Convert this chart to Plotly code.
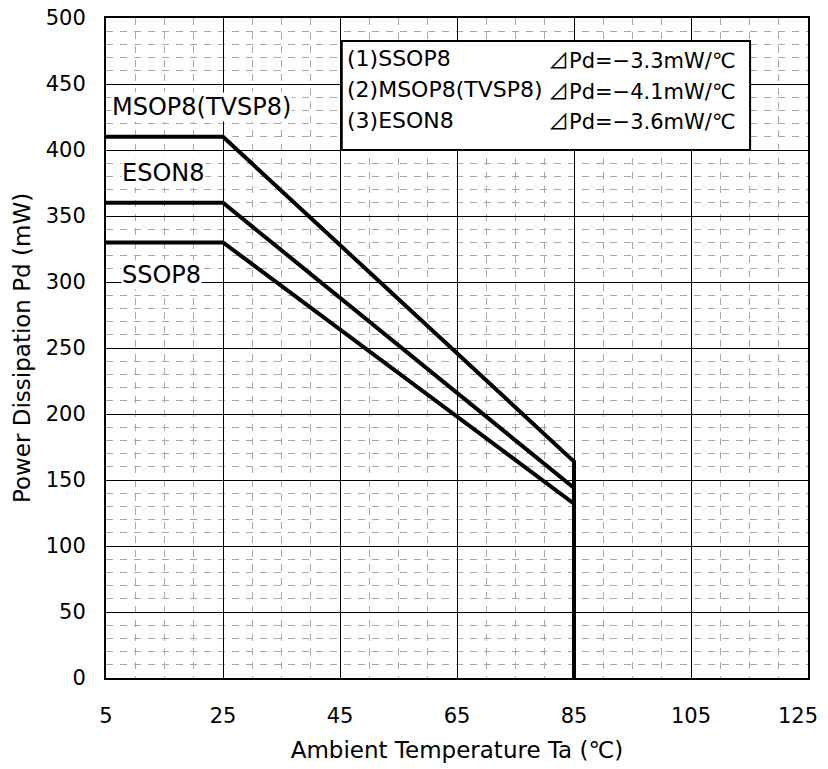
import plotly.graph_objects as go

temps = [5, 25, 85, 85]
ssop8 = [330, 330, 132, 0]
msop8 = [410, 410, 164, 0]
eson8 = [360, 360, 144, 0]

x_ticks = [5, 25, 45, 65, 85, 105, 125]
x_ticktext = ["5", "25", "45", "65", "85", "105", "125\u00a0\u00a0\u00a0"]
y_ticks = [0, 50, 100, 150, 200, 250, 300, 350, 400, 450, 500]

legend_names = ["(1)SSOP8", "(2)MSOP8(TVSP8)", "(3)ESON8"]
legend_slopes = ["Pd=−3.3mW/℃", "Pd=−4.1mW/℃", "Pd=−3.6mW/℃"]

fig = go.Figure()
for name, ys in [("SSOP8", ssop8), ("ESON8", eson8), ("MSOP8(TVSP8)", msop8)]:
    fig.add_trace(go.Scatter(x=temps, y=ys, mode="lines", name=name,
                             line=dict(color="black", width=4), showlegend=False))

F = "DejaVu Sans, Noto Sans CJK JP"
TRI = '<span style="font-family:Noto Sans CJK JP">⊿</span>'

# curve labels
for txt, xx, yy in [("MSOP8(TVSP8)", 5.9, 432.6), ("ESON8", 7.6, 382.6), ("SSOP8", 7.6, 305)]:
    fig.add_annotation(x=xx, y=yy, text=txt, showarrow=False, xanchor="left", yanchor="middle",
                       font=dict(family=F, size=24, color="black"), bgcolor="white", borderpad=0)

# legend box
fig.add_shape(type="rect", x0=45.3, x1=115.1, y0=400, y1=482.6, xref="x", yref="y",
              line=dict(color="black", width=2), fillcolor="white", layer="above")
rows_y = [469, 445.5, 422.7]
for n, s, yy in zip(legend_names, legend_slopes, rows_y):
    fig.add_annotation(x=45.8, y=yy, text=n, showarrow=False, xanchor="left", yanchor="middle",
                       font=dict(family=F, size=22, color="black"))
    fig.add_annotation(x=80.2, y=yy, text=TRI + s, showarrow=False, xanchor="left", yanchor="middle",
                       font=dict(family=F, size=21, color="black"))

fig.update_layout(
    width=828, height=769,
    margin=dict(l=98, r=28, t=10, b=99),
    paper_bgcolor="white", plot_bgcolor="white",
    font=dict(family=F, size=21, color="black"),
)
fig.update_xaxes(range=[5, 125], tickvals=x_ticks, ticktext=x_ticktext, ticks="", showgrid=True,
                 gridcolor="black", gridwidth=1,
                 minor=dict(dtick=5, tick0=5, showgrid=True, gridcolor="#a8a8a8", griddash="7px,7px", gridwidth=1),
                 showline=True, linecolor="black", linewidth=2, mirror=True, zeroline=False,
                 automargin=False, ticklabelstandoff=18, ticklabeloverflow="allow",
                 title=dict(text="Ambient Temperature Ta (℃)", font=dict(family=F, size=23), standoff=15),
                 tickfont=dict(family=F, size=21))
fig.update_yaxes(range=[0, 500], tickvals=y_ticks, ticks="", showgrid=True, gridcolor="black", gridwidth=1,
                 minor=dict(dtick=10, tick0=0, showgrid=True, gridcolor="#a8a8a8", griddash="7px,7px", gridwidth=1),
                 showline=True, linecolor="black", linewidth=2, mirror=True, zeroline=False,
                 automargin=False, ticklabelstandoff=14, ticklabeloverflow="allow",
                 title=dict(text="Power Dissipation Pd (mW)", font=dict(family=F, size=23), standoff=9),
                 tickfont=dict(family=F, size=21))

fig.write_html("out.html")
